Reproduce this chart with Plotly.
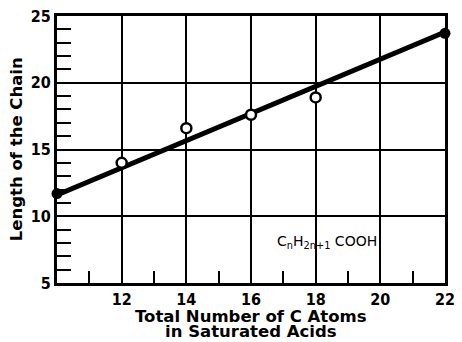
import plotly.graph_objects as go

# Measured chain lengths of saturated acids vs. number of C atoms
carbon_open = [12, 14, 16, 18]
length_open = [14.0, 16.6, 17.6, 18.9]

carbon_filled = [10, 22]
length_filled = [11.7, 23.7]

# Fitted straight line
fit_x = [10, 22]
fit_y = [11.6, 23.8]

x_ticks = [12, 14, 16, 18, 20, 22]
y_ticks = [5, 10, 15, 20, 25]

FONT = "DejaVu Sans"
TICK_FONT = "DejaVu Sans Condensed, DejaVu Sans"
TITLE_FONT = dict(family=FONT, size=16.5, color="black", weight="bold")

fig = go.Figure()

fig.add_trace(go.Scatter(
    x=fit_x, y=fit_y, mode="lines",
    line=dict(color="black", width=5),
    showlegend=False, hoverinfo="skip", cliponaxis=False,
))
fig.add_trace(go.Scatter(
    x=carbon_open, y=length_open, mode="markers",
    marker=dict(symbol="circle", size=10, color="white",
                line=dict(color="black", width=2.5)),
    showlegend=False, cliponaxis=False,
))
fig.add_trace(go.Scatter(
    x=carbon_filled, y=length_filled, mode="markers",
    marker=dict(symbol="circle", size=11, color="black"),
    showlegend=False, cliponaxis=False,
))

fig.add_annotation(
    x=18.35, y=8.1, xref="x", yref="y",
    text="C<sub>n</sub>H<sub>2n+1</sub> COOH",
    showarrow=False,
    font=dict(family=FONT, size=14, color="black"),
)

# Vertical axis title
fig.add_annotation(
    x=-0.104, y=0.5, xref="paper", yref="paper",
    text="Length of the Chain", textangle=-90,
    showarrow=False, xanchor="center", yanchor="middle",
    font=TITLE_FONT,
)

# Horizontal axis title, two tightly spaced lines
fig.add_annotation(
    x=0.5, y=-0.127, xref="paper", yref="paper",
    text="Total Number of C Atoms",
    showarrow=False, xanchor="center", yanchor="middle",
    font=TITLE_FONT,
)
fig.add_annotation(
    x=0.5, y=-0.181, xref="paper", yref="paper",
    text="in Saturated Acids",
    showarrow=False, xanchor="center", yanchor="middle",
    font=TITLE_FONT,
)

axis_common = dict(
    showline=True, linecolor="black", linewidth=3, mirror=True,
    showgrid=True, gridcolor="black", gridwidth=1.5,
    ticks="inside", ticklen=12, tickwidth=1.5, tickcolor="black",
    zeroline=False, ticklabeloverflow="allow",
    tickfont=dict(family=TICK_FONT, size=16, color="black", weight="bold"),
)

fig.update_xaxes(
    range=[10, 22], tickvals=x_ticks, ticktext=[str(v) for v in x_ticks],
    minor=dict(dtick=1, tick0=10, ticks="inside", ticklen=12,
               tickwidth=1.5, tickcolor="black", showgrid=False),
    **axis_common,
)
fig.update_yaxes(
    range=[5, 25], tickvals=y_ticks, ticktext=[str(v) for v in y_ticks],
    minor=dict(dtick=1, tick0=5, ticks="inside", ticklen=14,
               tickwidth=1.5, tickcolor="black", showgrid=False),
    **axis_common,
)

fig.update_layout(
    width=462, height=342,
    margin=dict(l=57, r=7, t=15, b=59),
    paper_bgcolor="white", plot_bgcolor="white",
)

fig.write_html("out.html")
